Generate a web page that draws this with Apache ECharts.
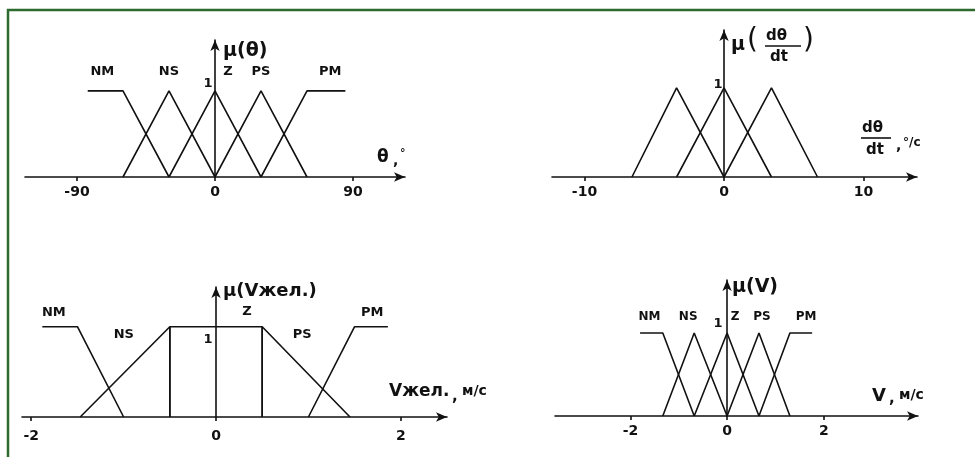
<!DOCTYPE html>
<html>
<head>
<meta charset="utf-8">
<script src="https://cdn.jsdelivr.net/npm/echarts@6/dist/echarts.min.js"></script>
<style>
  html, body { margin: 0; padding: 0; background: #fff; }
  #chart { width: 975px; height: 457px; }
</style>
</head>
<body>
<div id="chart"></div>
<script>
// Fuzzy set names shared by the panels
const setNames = ['NM', 'NS', 'Z', 'PS', 'PM'];

// Angle error θ, degrees: membership breakpoints [x, μ]
const thetaNM = [[-83, 1], [-60, 1], [-30, 0]];
const thetaNS = [[-60, 0], [-30, 1], [0, 0]];
const thetaZ  = [[-30, 0], [0, 1], [30, 0]];
const thetaPS = [[0, 0], [30, 1], [60, 0]];
const thetaPM = [[30, 0], [60, 1], [85, 1]];
const thetaTicks = [-90, 0, 90];

// Angular rate dθ/dt, °/с
const rateN = [[-6.6, 0], [-3.4, 1], [0, 0]];
const rateZ = [[-3.4, 0], [0, 1], [3.4, 0]];
const rateP = [[0, 0], [3.4, 1], [6.7, 0]];
const rateTicks = [-10, 0, 10];

// Desired speed Vжел., м/с
const vdesNM = [[-1.88, 1], [-1.5, 1], [-1.0, 0]];
const vdesNS = [[-1.47, 0], [-0.5, 1], [-0.5, 0]];
const vdesZ  = [[-0.5, 0], [-0.5, 1], [0.5, 1], [0.5, 0]];
const vdesPS = [[0.5, 0], [0.5, 1], [1.45, 0]];
const vdesPM = [[1.0, 0], [1.5, 1], [1.86, 1]];
const vdesTicks = [-2, 0, 2];

// Speed V, м/с
const vNM = [[-1.8, 1], [-1.33, 1], [-0.68, 0]];
const vNS = [[-1.33, 0], [-0.68, 1], [0, 0]];
const vZ  = [[-0.68, 0], [0, 1], [0.66, 0]];
const vPS = [[0, 0], [0.66, 1], [1.3, 0]];
const vPM = [[0.66, 0], [1.3, 1], [1.76, 1]];
const vTicks = [-2, 0, 2];

// the full-membership level marked on each μ axis
const unitLevel = [0, 1];

const INK = '#111111';
const FONT = '"DejaVu Sans", "Liberation Sans", Arial, sans-serif';

const chart = echarts.init(document.getElementById('chart'), null, { renderer: 'canvas' });

// centre of the μ = 1 part of a set
function peakOf(pts) {
  const top = pts.filter(p => p[1] === 1);
  return [(top[0][0] + top[top.length - 1][0]) / 2, 1];
}

function boldLabel(text, offset, size) {
  return { show: true, formatter: text, position: [0, 0], align: 'center', verticalAlign: 'middle',
    offset: offset, color: INK, opacity: 1, textBorderWidth: 0,
    fontSize: size, fontWeight: 'bold', fontFamily: FONT };
}

const panels = [
  { box: { left: 25, top: 40, width: 380, height: 137 }, x: [-123.9, 123.9], yMax: 1.59,
    ticks: thetaTicks, tickMargin: 8, oneOffset: [-7, -7],
    sets: [thetaNM, thetaNS, thetaZ, thetaPS, thetaPM], names: setNames,
    offsets: [[-3, -19], [0, -19], [13, -19], [0, -19], [4, -19]], labelSize: 13 },
  { box: { left: 552, top: 30, width: 365, height: 147 }, x: [-12.33, 13.83], yMax: 1.65,
    ticks: rateTicks, tickMargin: 8, oneOffset: [-6, -3],
    sets: [rateN, rateZ, rateP], names: null },
  { box: { left: 22, top: 287, width: 425, height: 130 }, x: [-2.1, 2.5], yMax: 1.44,
    ticks: vdesTicks, tickMargin: 12, oneOffset: [-8, 13],
    sets: [vdesNM, vdesNS, vdesZ, vdesPS, vdesPM], names: setNames,
    offsets: [[-6, -14], [-46, 8], [31, -15], [40, 8], [1, -14]], labelSize: 13 },
  { box: { left: 555, top: 280, width: 363, height: 136 }, x: [-3.56, 3.95], yMax: 1.64,
    ticks: vTicks, tickMargin: 8, oneOffset: [-9, -9],
    sets: [vNM, vNS, vZ, vPS, vPM], names: setNames,
    offsets: [[-2, -16], [-6, -16], [8, -16], [3, -16], [5, -16]], labelSize: 12 }
];

const grid = [], xAxis = [], yAxis = [], series = [];

panels.forEach((p, i) => {
  grid.push(Object.assign({ outerBoundsMode: 'none', containLabel: false }, p.box));
  xAxis.push({
    gridIndex: i, type: 'value', min: p.x[0], max: p.x[1],
    splitLine: { show: false },
    axisLine: { onZero: true, symbol: ['none', 'arrow'], symbolSize: [7, 11],
      lineStyle: { color: INK, width: 1.6 } },
    axisTick: { show: true, customValues: p.ticks, length: 4, inside: false,
      lineStyle: { color: INK, width: 1.6 } },
    axisLabel: { customValues: p.ticks, margin: p.tickMargin, color: INK,
      fontSize: 14, fontWeight: 'bold', fontFamily: FONT }
  });
  yAxis.push({
    gridIndex: i, type: 'value', min: 0, max: p.yMax,
    splitLine: { show: false },
    axisLine: { show: true, onZero: true, symbol: ['none', 'arrow'], symbolSize: [7, 11],
      lineStyle: { color: INK, width: 1.6 } },
    axisTick: { show: false },
    axisLabel: { show: false }
  });
  p.sets.forEach(pts => {
    series.push({
      type: 'line', xAxisIndex: i, yAxisIndex: i, data: pts,
      showSymbol: false, symbol: 'none', silent: true, animation: false,
      lineStyle: { color: INK, width: 1.6 }
    });
  });
  const marks = [{ value: unitLevel, label: boldLabel('1', p.oneOffset, 13) }];
  if (p.names) {
    p.sets.forEach((pts, k) => {
      marks.push({ value: peakOf(pts), label: boldLabel(p.names[k], p.offsets[k], p.labelSize) });
    });
  }
  series.push({
    type: 'scatter', xAxisIndex: i, yAxisIndex: i, symbolSize: 0, silent: true, animation: false,
    itemStyle: { color: INK, opacity: 1 }, data: marks
  });
});

function txt(x, y, s, size, weight) {
  return {
    type: 'text', x: x, y: y, silent: true,
    style: { text: s, fill: INK, font: (weight || 'bold') + ' ' + size + 'px ' + FONT,
      verticalAlign: 'middle' }
  };
}
function bar(x1, x2, y) {
  return { type: 'line', silent: true, shape: { x1: x1, y1: y, x2: x2, y2: y },
    style: { stroke: INK, lineWidth: 1.6 } };
}

const graphic = [
  // frame
  { type: 'polyline', silent: true, shape: { points: [[8, 457], [8, 10], [975, 10]] },
    style: { stroke: '#2d6a2d', lineWidth: 2.5, fill: null } },
  // θ panel titles
  txt(223, 51, 'μ(θ)', 19),
  txt(377, 158, 'θ', 17),
  txt(393, 161, ',', 14),
  txt(400, 153, '°', 11),
  // dθ/dt panel titles
  txt(731, 45, 'μ', 19),
  txt(747, 41, '(', 28, 'normal'),
  txt(766, 36, 'dθ', 15),
  bar(765, 801, 46),
  txt(770, 57, 'dt', 15),
  txt(803, 41, ')', 28, 'normal'),
  txt(862, 128, 'dθ', 15),
  bar(861, 891, 138),
  txt(866, 150, 'dt', 15),
  txt(896, 146, ',', 14),
  txt(903, 143, '°/с', 12),
  // Vжел. panel titles
  txt(223, 291, 'μ(Vжел.)', 18),
  txt(389, 392, 'Vжел.', 17),
  txt(452, 397, ',', 15),
  txt(462, 391, 'м/с', 14),
  // V panel titles
  txt(732, 287, 'μ(V)', 19),
  txt(872, 396, 'V', 18),
  txt(889, 399, ',', 15),
  txt(899, 395, 'м/с', 14)
];

chart.setOption({
  backgroundColor: '#ffffff',
  animation: false,
  grid: grid,
  xAxis: xAxis,
  yAxis: yAxis,
  series: series,
  graphic: graphic
});
</script>
</body>
</html>
